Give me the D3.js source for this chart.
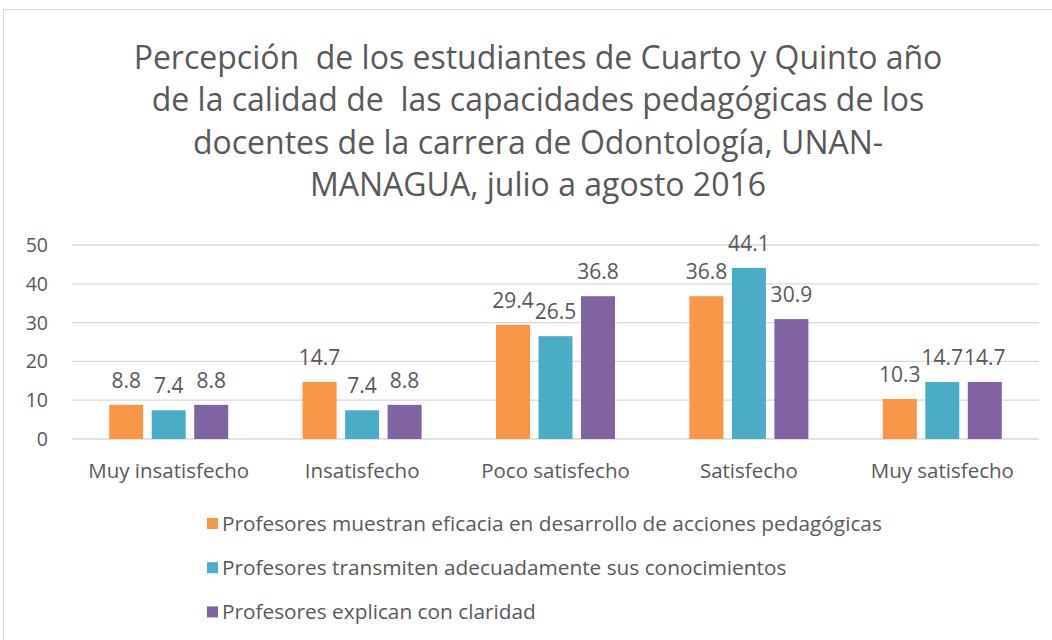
<!DOCTYPE html>
<html><head><meta charset="utf-8">
<script src="https://cdn.jsdelivr.net/npm/d3@7/dist/d3.min.js"></script>
<style>body{margin:0;background:#fff}text{font-family:"Open Sans",sans-serif;fill:#595959;white-space:pre}</style>
</head><body><svg id="c" width="1052" height="640"></svg>
<script>
const categories = ["Muy insatisfecho","Insatisfecho","Poco satisfecho","Satisfecho","Muy satisfecho"];
const seriesNames = ["Profesores muestran eficacia en desarrollo de acciones pedagógicas","Profesores transmiten adecuadamente sus conocimientos","Profesores explican con claridad"];
const eficacia = [8.8,14.7,29.4,36.8,10.3];
const transmiten = [7.4,7.4,26.5,44.1,14.7];
const explican = [8.8,8.8,36.8,30.9,14.7];
const yTicks = [0,10,20,30,40,50];
const titleLines = ["Percepción  de los estudiantes de Cuarto y Quinto año","de la calidad de  las capacidades pedagógicas de los","docentes de la carrera de Odontología, UNAN-","MANAGUA, julio a agosto 2016"];
const colors = ["#F79646","#4BACC6","#8064A2"];
const series = [eficacia, transmiten, explican];

const svg = d3.select("#c");
svg.append("rect").attr("x",3.5).attr("y",9.5).attr("width",1060).attr("height",640).attr("fill","none").attr("stroke","#D9D9D9");

const title = svg.append("text").attr("text-anchor","middle").style("font-size","32px");
titleLines.forEach((t,i)=>title.append("tspan").attr("x",538).attr("y",69+i*42.3).text(t));

const x0 = d3.scaleBand().domain(categories).range([72,1039]);
const y = d3.scaleLinear().domain([0,50]).range([439,245]);
const x1 = d3.scaleBand().domain([0,1,2]).range([0,119]).paddingInner(0.2);

svg.append("g").selectAll("line").data(yTicks).join("line")
  .attr("x1",72).attr("x2",1039).attr("y1",d=>y(d)).attr("y2",d=>y(d))
  .attr("stroke","#D9D9D9").attr("stroke-width",1.3);

svg.append("g").selectAll("text").data(yTicks).join("text")
  .attr("x",48).attr("y",d=>y(d)+7).attr("text-anchor","end").style("font-size","19.5px").text(d=>d);

const g = svg.append("g").selectAll("g").data(categories).join("g")
  .attr("transform",d=>`translate(${x0(d)+x0.bandwidth()/2-59.5},0)`);
series.forEach((s,si)=>{
  g.append("rect").attr("x",x1(si)).attr("width",x1.bandwidth())
    .attr("y",(d,i)=>y(s[i])).attr("height",(d,i)=>y(0)-y(s[i])).attr("fill",colors[si]);
  g.append("text").attr("x",x1(si)+x1.bandwidth()/2).attr("y",(d,i)=>y(s[i])-17)
    .attr("text-anchor","middle").style("font-size","21px").text((d,i)=>s[i].toFixed(1));
});

svg.append("g").selectAll("text").data(categories).join("text")
  .attr("x",d=>x0(d)+x0.bandwidth()/2).attr("y",478).attr("text-anchor","middle")
  .style("font-size","20.5px").text(d=>d);

const lg = svg.append("g").selectAll("g").data(seriesNames).join("g")
  .attr("transform",(d,i)=>`translate(207,${524+i*44.2})`);
lg.append("rect").attr("x",0).attr("y",-6).attr("width",11).attr("height",11).attr("fill",(d,i)=>colors[i]);
lg.append("text").attr("x",15).attr("y",7).style("font-size","20.8px").text(d=>d);
</script></body></html>
